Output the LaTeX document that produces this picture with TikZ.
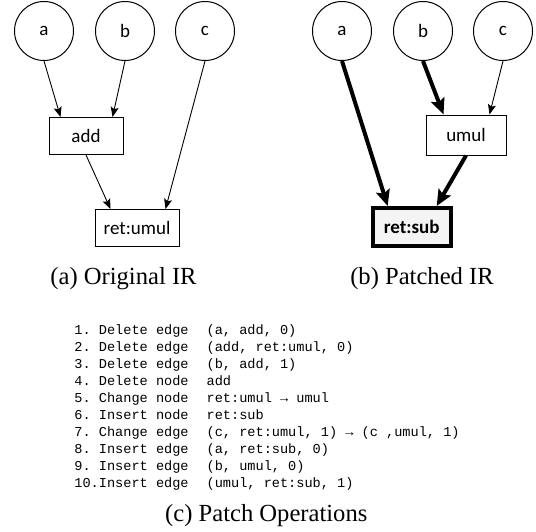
\documentclass[tikz,border=0pt]{standalone}
\usepackage{fontspec}
\setmainfont{Liberation Serif}
\newfontfamily\capfont{Liberation Serif}
\newfontfamily\nodefont{Carlito}
\newfontfamily\opsfont{Liberation Mono}
\usepackage{tikz}
\usetikzlibrary{positioning,arrows.meta}

\begin{document}
\begin{tikzpicture}[x=0.5pt,y=-0.5pt,>={Stealth[length=5pt,width=4pt,inset=1pt]},
    var/.style={circle,draw,line width=0.5pt,minimum size=29.5pt,inner sep=0pt,font=\nodefont\fontsize{9.5}{11}\selectfont},
    op/.style={rectangle,draw,line width=0.5pt,minimum height=18.5pt,inner sep=0pt,font=\nodefont\fontsize{9.5}{11}\selectfont},
    newop/.style={op,line width=2pt,fill=gray!9,minimum width=39pt,minimum height=19pt,font=\nodefont\bfseries\fontsize{9.5}{11}\selectfont},
    thin edge/.style={->,line width=0.45pt},
    thick edge/.style={->,line width=2pt,>={Stealth[length=8pt,width=7pt,inset=1.5pt]}},
    caption/.style={font=\capfont\fontsize{12.3}{14}\selectfont}]

    \useasboundingbox (0,0) rectangle (536,531);

    % (a) original graph
	\node [var] at (44,31) (a1) {a};
	\node [var] at (125,31) (b1) {b};
	\node [var] at (205,31) (c1) {c};

	\node [op,minimum width=37pt] at (86,136) (add) {add};
	\node [op,minimum width=42pt] at (137,228) (ret1) {ret:umul};

	\node [caption] at (123.5,279) (capa) {(a) Original IR};

	% (a) edges
	\path[thin edge]
	(a1.south) edge ([xshift=6pt]add.north west)
	(b1.south) edge ([xshift=-5.5pt]add.north east)
	(add.south) edge ([xshift=8pt]ret1.north west)
	(c1.south) edge ([xshift=-7pt]ret1.north east);

    % (b) patched graph
	\node [var] at (342,31) (a2) {a};
	\node [var] at (423,31) (b2) {b};
	\node [var] at (503,31) (c2) {c};

	\node [op,minimum width=40pt,minimum height=20pt] at (466,135) (umul) {umul};
	\node [newop] at (411.7,227) (ret2) {ret:sub};

	\node [caption] at (422,279) (capb) {(b) Patched IR};

	% (b) edges
	\path[thick edge]
	(a2.south) edge ([xshift=8.5pt]ret2.north west)
	(b2.south) edge ([xshift=9pt]umul.north west)
	(umul.south) edge ([xshift=-8pt]ret2.north east);

	\path[thin edge]
	(c2.south) edge ([xshift=-8.5pt]umul.north east);

    % (c) patch operations
	\node [anchor=north west,inner sep=0pt,font=\opsfont\fontsize{6.8}{8.5}\selectfont,align=left] at (74,322) (ops) {%
	\begin{tabular}{@{}l@{}l@{\hspace{9pt}}l@{}}
	1.~ & Delete edge & (a, add, 0)\\
	2.~ & Delete edge & (add, ret:umul, 0)\\
	3.~ & Delete edge & (b, add, 1)\\
	4.~ & Delete node & add\\
	5.~ & Change node & ret:umul → umul\\
	6.~ & Insert node & ret:sub\\
	7.~ & Change edge & (c, ret:umul, 1) → (c ,umul, 1)\\
	8.~ & Insert edge & (a, ret:sub, 0)\\
	9.~ & Insert edge & (b, umul, 0)\\
	10. & Insert edge & (umul, ret:sub, 1)
	\end{tabular}};

	\node [caption] at (266.3,516) (capc) {(c) Patch Operations};

\end{tikzpicture}
\end{document}
